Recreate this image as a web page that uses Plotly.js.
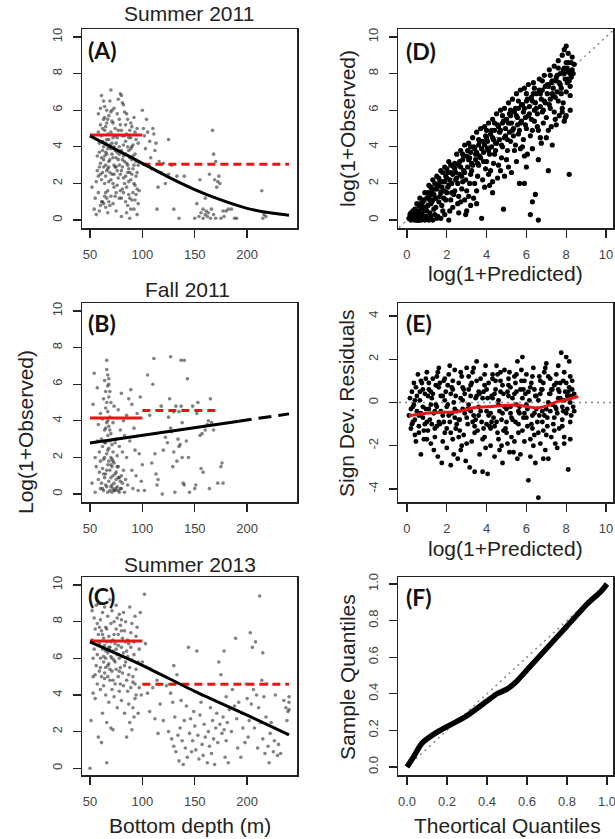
<!DOCTYPE html>
<html><head><meta charset="utf-8">
<script src="https://cdn.plot.ly/plotly-3.0.1.min.js"></script>
<style>html,body{margin:0;padding:0;background:#fff}#chart{width:615px;height:839px}</style>
</head><body><div id="chart"></div>
<script>
// ---------- DATA ----------
// Panel A: Summer 2011 [bottom depth, log(1+observed)]
const ptsA = [[52,1.8],[54,0.6],[55,1.2],[56,0.3],[57,2.7],[57,3.5],[58,5.8],[58,1.5],[59,4.2],[59,2.9],[60,0.8],[60,3.1],[60,5.2],[61,2.2],[61,4.6],[61,6.8],[62,3.8],[62,1.0],[62,2.6],[63,5.5],[63,4.0],[63,3.3],[64,6.2],[64,2.0],[64,4.9],[65,3.0],[65,5.1],[65,0.7],[65,2.4],[66,4.4],[66,6.0],[66,3.6],[67,2.8],[67,4.7],[67,1.6],[68,5.7],[68,3.2],[68,2.1],[69,4.1],[69,6.5],[70,7.1],[70,3.9],[70,1.3],[71,5.4],[71,2.5],[72,4.5],[72,0.9],[72,3.4],[73,6.1],[73,1.8],[74,2.9],[74,5.0],[75,4.2],[75,0.5],[75,1.5],[76,3.7],[76,5.8],[77,6.6],[77,2.3],[78,1.2],[78,4.0],[78,3.0],[79,6.9],[79,5.2],[80,6.8],[80,0.2],[80,2.7],[81,4.6],[81,1.7],[82,3.5],[82,6.3],[83,5.9],[83,2.0],[84,1.0],[84,4.3],[85,3.1],[85,0.4],[86,5.5],[86,2.6],[87,1.4],[87,3.8],[88,0.1],[88,4.9],[89,2.2],[89,5.3],[90,3.3],[90,1.1],[91,4.1],[91,2.8],[92,5.6],[92,0.6],[93,3.6],[93,1.9],[94,2.4],[94,4.4],[95,0.3],[95,5.0],[96,3.0],[97,1.6],
[56,2.1],[58,4.8],[59,3.7],[60,2.5],[61,3.4],[62,5.0],[63,2.9],[63,0.9],[64,3.5],[64,5.6],[65,4.2],[65,1.5],[66,2.7],[66,5.3],[67,3.9],[67,0.4],[68,4.4],[68,1.0],[69,2.6],[69,3.3],[70,4.8],[70,2.2],[71,3.6],[71,6.0],[72,2.0],[73,4.0],[73,3.0],[74,1.3],[74,3.8],[75,2.9],[76,4.5],[76,1.9],[77,3.3],[78,5.5],[79,2.5],[80,3.8],[80,4.9],[81,6.4],[81,2.9],[82,1.5],[82,4.1],[83,3.2],[84,5.2],[84,2.4],[85,4.7],[85,1.8],[86,3.0],[86,0.8],[87,4.5],[87,2.8],[88,3.4],[88,1.2],[89,0.6],[89,3.9],[90,5.1],[90,2.5],[91,1.5],[92,3.0],[93,4.8],[94,1.4],[95,2.6],[96,4.2],
[58,2.4],[59,0.5],[60,6.1],[61,1.0],[62,4.3],[63,6.5],[64,1.3],[65,3.7],[66,1.2],[67,5.5],[68,2.9],[69,0.8],[70,5.9],[71,4.2],[72,5.3],[73,2.5],[74,4.6],[75,3.4],[76,2.7],[77,4.9],[78,3.6],[79,1.6],[80,1.2],[81,3.3],[82,2.3],[83,4.6],[84,3.6],[85,5.8],[86,4.0],[87,2.1],[88,2.6],[89,4.5],[90,4.0],[91,3.5],[92,2.0],[93,1.1],[94,3.2],[95,1.7],[96,0.9],
[100,6.0],[101,5.0],[102,4.6],[103,3.9],[104,5.5],[105,4.8],[106,3.0],[107,4.3],[108,3.4],[109,2.8],[110,5.0],[111,4.7],[112,3.8],[113,4.2],[114,0.6],[115,1.8],[116,3.2],[118,2.6],[120,3.1],[122,2.0],[125,4.4],[125,2.5],[128,3.0],[130,0.6],[133,2.4],[135,0.1],[140,2.4],
[150,0.1],[152,0.9],[154,0.2],[155,2.2],[156,0.4],[158,0.1],[158,0.6],[160,1.2],[160,0.3],[161,0.5],[162,0.2],[163,0.4],[164,2.5],[165,0.1],[166,0.6],[167,4.9],[168,3.6],[168,0.3],[169,2.2],[170,3.2],[170,0.1],[171,1.8],[172,2.1],[173,2.4],[174,2.0],[175,0.1],[177,0.5],[178,0.2],[180,0.5],[182,0.6],[185,0.6],[188,0.1],[190,0.1],[214,1.6],[215,0.1],[216,0.3],[218,0.2]];
const fitAx = [50,75,100,125,150,175,200,225,240];
const fitAy = [4.6,3.85,3.1,2.35,1.67,1.1,0.64,0.37,0.27];
const meanAshallow = 4.65, meanAdeep = 3.05;

// Panel B: Fall 2011
const ptsB = [[52,0.6],[53,4.9],[54,6.6],[55,2.0],[55,0.1],[56,1.5],[57,5.8],[57,2.9],[58,0.8],[58,3.8],[59,1.2],[59,2.3],[60,0.3],[60,4.4],[60,1.8],
[61,3.0],[61,0.6],[62,2.6],[62,1.4],[62,4.1],[63,5.2],[63,0.2],[63,1.9],[64,3.5],[64,6.2],[64,0.9],[65,2.8],[65,5.6],[65,1.1],[65,4.7],[66,7.3],[66,6.8],[66,3.9],[66,0.4],[66,2.2],[67,6.5],[67,5.9],[67,4.5],[67,3.2],[67,1.6],[67,0.1],[68,6.0],[68,5.3],[68,3.7],[68,2.5],[68,0.7],[69,4.2],[69,2.9],[69,1.3],[69,0.2],[70,3.3],[70,2.0],[70,0.9],[70,5.0],[71,2.7],[71,1.5],[71,0.5],[72,3.9],[72,2.3],[72,0.3],[72,1.0],
[73,4.8],[73,1.7],[73,0.6],[74,2.8],[74,0.2],[75,3.0],[75,1.2],[75,0.8],[76,2.1],[76,0.4],[77,4.6],[77,1.5],[77,0.9],[78,2.6],[78,0.1],[79,3.5],[79,0.7],[80,5.5],[80,1.0],[80,0.3],[81,2.3],[81,0.6],[82,4.0],[82,1.3],[83,0.1],[83,3.2],[84,0.8],[85,2.0],[85,4.3],
[64,2.0],[65,0.5],[66,1.3],[67,2.4],[68,1.8],[69,3.5],[70,1.6],[71,0.1],[72,1.8],[73,0.2],[74,1.1],[75,0.3],[76,1.5],[77,0.2],[78,0.9],[79,0.3],[62,0.3],[63,1.1],[64,2.8],[65,3.6],[66,5.0],[67,4.0],[68,6.3],[69,5.6],[70,0.4],[71,1.9],
[86,0.5],[87,5.2],[88,2.9],[89,5.7],[90,1.3],[90,4.9],[91,0.3],[92,3.6],[93,2.4],[94,1.0],[95,4.4],[96,0.2],[97,2.2],[98,5.3],[99,0.7],[100,1.6],
[102,0.2],[105,6.5],[107,4.3],[109,1.7],[110,6.0],[111,7.4],[112,2.2],[113,1.1],[114,0.5],[115,0.8],[118,4.8],[119,0.0],[120,2.4],[122,3.1],[124,2.8],[125,4.2],[126,5.2],[127,7.5],[127,3.6],[128,3.4],[129,1.5],[130,2.3],[130,4.5],[131,0.1],[132,4.8],[133,1.8],[134,3.0],[135,2.6],[135,4.5],[136,2.7],[137,7.3],[137,4.8],[138,2.0],[138,3.9],[139,0.6],[140,7.3],[140,0.5],[142,2.9],[143,6.3],[144,2.0],[145,0.1],[148,4.8],[150,0.3],[151,0.5],[152,4.4],[153,5.0],[155,3.2],[156,1.4],[157,3.3],[158,1.2],[160,3.5],[162,3.8],[163,4.0],[164,0.3],[165,5.2],[166,3.9],[168,3.5],[172,0.6],[175,1.5],[176,1.7],[177,0.6]];
const fitBx = [50,192], fitBy = [2.79,3.98];
const fitBextX = [192,240], fitBextY = [3.98,4.38];
const meanBshallow = 4.16, meanBdeep = 4.56, meanBdeepEnd = 173;

// Panel C: Summer 2013
const ptsC = [[50,0.0],[51,2.6],[52,8.6],[52,7.0],[53,5.0],[53,4.1],[54,8.2],[54,6.5],[55,3.8],[55,7.6],[56,5.6],[56,8.9],[57,6.2],[57,4.6],[58,9.0],[58,7.3],[58,1.7],[59,5.3],[59,6.8],[60,8.1],[60,4.3],[60,6.0],[61,7.5],[61,5.0],[61,1.4],[62,6.5],[62,8.5],[62,3.0],[63,5.8],[63,7.1],[63,4.5],[64,6.7],[64,5.2],[64,8.8],[65,6.0],[65,7.7],[65,4.0],[65,5.5],[66,6.9],[66,2.5],[66,0.3],[67,6.3],[67,5.0],[67,8.3],[68,7.2],[68,5.7],[68,3.6],[69,6.6],[69,4.8],[69,9.2],[70,7.9],[70,6.1],[70,2.2],[71,5.3],[71,8.6],[71,4.3],[72,7.0],[72,6.4],[72,2.1],[73,5.9],[73,8.0],[73,3.9],[74,6.8],[74,4.6],[75,7.6],[75,5.4],[75,8.9],[76,6.2],[76,3.3],[77,7.3],[77,5.0],[78,8.4],[78,6.0],[78,4.2],[79,7.8],[79,5.5],[80,6.6],[80,3.7],[80,8.1],[81,5.2],[81,7.1],[82,6.3],[82,4.5],[83,7.5],[83,3.0],[84,5.8],[84,8.0],[85,4.8],[85,1.7],[86,6.1],[86,7.0],[87,3.5],[87,5.1],[88,8.8],[88,2.5],[89,4.4],[89,6.6],[90,7.9],[90,2.1],[91,5.0],[91,3.3],[92,6.9],[92,2.8],[93,8.3],[93,4.6],[94,5.4],[94,4.0],[95,7.7],[96,5.8],[97,4.4],[98,8.5],[99,4.0],[100,5.8],
[53,6.0],[55,5.1],[57,7.9],[59,7.7],[60,5.5],[62,7.3],[63,6.1],[64,4.9],[65,6.4],[66,7.6],[67,5.6],[68,6.6],[69,5.4],[70,6.9],[71,6.0],[72,4.8],[73,7.3],[74,5.8],[75,6.5],[76,8.2],[77,6.7],[78,5.3],[79,4.6],[80,7.5],[81,6.1],[82,8.5],[83,5.6],[84,6.9],[85,6.4],[86,4.2],[87,6.8],[88,5.5],[89,7.4],[90,5.9],[91,4.7],[92,6.2],[93,3.8],[94,7.2],[96,3.0],[97,6.5],
[102,9.5],[103,6.8],[105,4.1],[107,3.1],[108,5.4],[110,4.4],[112,2.7],[114,4.8],[115,1.9],[117,3.5],[120,2.6],[123,4.5],[125,2.0],[127,4.1],[128,1.6],[129,3.6],[130,5.6],[130,1.2],[131,2.8],[132,0.9],[133,5.1],[134,1.8],[135,0.4],[136,2.2],[137,3.7],[138,1.5],[139,0.2],[140,2.6],
[141,1.1],[142,3.4],[143,0.6],[144,6.6],[145,1.9],[146,2.7],[147,0.9],[148,1.5],[149,3.1],[150,2.3],[151,1.0],[152,6.4],[153,1.8],[154,0.5],[155,2.9],[156,3.6],[157,1.3],[158,0.7],[159,2.4],[160,1.7],[162,0.3],[163,2.0],[164,1.2],[165,3.3],[166,0.8],[167,2.6],[168,1.6],[169,0.2],[170,2.2],[171,3.0],[172,1.4],[173,5.8],[174,2.4],[175,5.1],[176,1.9],[177,2.8],[178,6.4],[178,2.1],[179,0.6],[180,3.9],[180,1.5],[181,2.5],[182,0.3],[183,3.2],
[185,2.0],[186,4.3],[188,3.4],[189,7.1],[190,2.7],[191,1.1],[192,3.6],[194,0.6],[195,3.0],[196,2.2],[198,1.4],[199,4.6],[200,3.8],[201,1.7],[202,2.6],[203,7.4],[204,3.5],[205,6.6],[206,4.3],[207,2.2],[208,6.9],[209,4.0],[210,1.1],[211,3.3],[212,9.4],[213,2.5],[214,4.8],[215,6.3],[215,1.6],[216,3.9],[217,0.8],[218,2.8],[219,4.6],[220,1.2],[221,0.3],[222,1.9],[223,2.5],[225,0.9],[226,1.5],[227,4.0],[229,0.7],[230,1.3],[232,0.8],[235,3.7],[237,3.3],[238,2.6],[239,3.1],[240,3.6],[240,3.9],[240,3.2]];
const fitCx = [50,100,150,200,240];
const fitCy = [6.9,5.62,4.2,2.9,1.82];
const meanCshallow = 6.95, meanCdeep = 4.58;

// Panel D: observed vs predicted
const ptsD = [[0.1,0.1],[0.2,0.0],[0.3,0.3],[0.35,0.1],[0.4,0.6],[0.45,0.2],[0.5,0.9],[0.55,0.4],[0.6,0.1],[0.65,1.2],[0.7,0.7],[0.75,0.3],[0.8,1.0],[0.85,0.5],[0.9,1.5],[0.95,0.2],[1.0,1.2],[1.05,0.8],[1.1,1.9],[1.15,0.4],[1.2,1.4],[1.25,1.0],[1.3,2.2],[1.35,0.6],[1.4,1.7],[1.45,1.2],[1.5,2.4],[1.55,0.2],[1.6,1.9],[1.65,1.3],[1.7,2.7],[1.75,0.8],[1.8,2.1],[1.85,1.6],[1.9,2.9],[1.95,1.1],[2.0,2.3],[2.05,1.8],[2.1,3.2],[2.15,0.5],[2.2,2.6],[2.25,2.0],[2.3,3.0],[2.35,1.4],[2.4,2.8],[2.45,2.2],[2.5,3.6],[2.55,0.9],[2.6,3.0],[2.65,2.5],[2.7,3.8],[2.75,1.7],[2.8,3.3],[2.85,2.7],[2.9,4.1],[2.95,0.3],[3.0,3.5],[3.05,2.9],[3.1,4.2],[3.15,2.0],[3.2,3.7],[3.25,3.1],[3.3,4.5],[3.35,1.2],[3.4,3.9],[3.45,3.3],[3.5,4.8],[3.55,2.4],[3.6,4.1],[3.65,3.5],[3.7,5.0],[3.75,0.1],[3.8,4.3],[3.85,3.7],[3.9,5.1],[3.95,2.8],[4.0,4.5],[4.05,3.9],[4.1,5.3],[4.15,1.9],[4.2,4.7],[4.25,4.0],[4.3,5.5],[4.35,3.1],[4.4,4.9],[4.45,4.2],[4.5,5.8],[4.55,2.3],[4.6,5.1],[4.65,4.4],[4.7,6.0],[4.75,3.4],[4.8,5.3],[4.85,0.6],[4.9,6.1],[4.95,4.6],[5.0,5.5],[5.05,3.8],[5.1,6.4],[5.15,4.8],[5.2,5.7],[5.25,2.6],[5.3,6.6],[5.35,5.0],[5.4,5.9],[5.45,4.1],[5.5,6.9],[5.55,5.2],[5.6,6.1],[5.65,2.0],[5.7,7.1],[5.75,5.4],[5.8,6.3],[5.85,4.4],[5.9,7.2],[5.95,5.6],[6.0,6.5],[6.05,3.6],[6.1,7.4],[6.15,5.8],[6.2,0.3],[6.25,6.7],[6.3,4.9],[6.35,7.5],[6.4,6.0],[6.45,1.4],[6.5,6.9],[6.55,5.1],[6.6,0.0],[6.65,7.7],[6.7,6.2],[6.75,4.2],[6.8,7.1],[6.85,5.3],[6.9,7.9],[6.95,6.4],[7.0,4.5],[7.05,7.4],[7.1,2.7],[7.15,8.2],[7.2,6.6],[7.25,5.1],[7.3,7.6],[7.35,6.8],[7.4,8.4],[7.45,5.5],[7.5,7.8],[7.55,7.0],[7.6,8.7],[7.65,5.7],[7.7,8.0],[7.75,7.2],[7.8,9.0],[7.85,6.4],[7.9,8.3],[7.95,5.6],[8.0,9.5],[8.05,7.5],[8.1,8.6],[8.15,2.5],[8.2,8.0],[8.25,7.8],[8.3,8.9],
[0.3,0.1],[0.5,0.3],[0.7,0.9],[0.9,0.6],[1.1,1.3],[1.3,1.1],[1.5,1.7],[1.7,1.5],[1.9,2.1],[2.1,1.9],[2.3,2.5],[2.5,2.3],[2.7,2.9],[2.9,2.6],[3.1,3.3],[3.3,3.0],[3.5,3.7],[3.7,3.4],[3.9,4.1],[4.1,3.8],[4.3,4.5],[4.5,4.2],[4.7,4.9],[4.9,4.5],[5.1,5.3],[5.3,4.9],[5.5,5.7],[5.7,5.3],[5.9,6.1],[6.1,5.7],[6.3,6.5],[6.5,6.1],[6.7,6.9],[6.9,6.5],[7.1,7.3],[7.3,6.9],[7.5,7.6],[7.7,7.4],[7.9,8.0],[8.1,7.7],[0.8,0.2],[1.2,0.9],[1.6,1.0],[2.0,1.5],[2.4,1.6],[2.8,2.1],[3.2,2.5],[3.6,3.0],[4.0,3.2],[4.4,3.6],[4.8,4.0],[5.2,4.3],[5.6,4.7],[6.0,5.0],[6.4,5.4],[6.8,5.9],[7.2,6.1],[7.6,6.5],[8.0,7.0],[8.2,6.8],[1.0,0.1],[1.4,0.3],[1.8,0.5],[2.2,1.1],[2.6,1.3],[3.0,1.6],[3.4,2.0],[3.8,2.2],[4.2,2.7],[4.6,3.0],[5.0,3.3],[5.4,3.8],[5.8,4.0],[6.2,4.6],[6.6,4.9],[7.0,5.6],[7.4,5.9],[7.8,6.1],[8.2,7.3],[8.1,8.1],[2.0,2.8],[2.4,3.1],[2.8,3.6],[3.2,4.0],[3.6,4.4],[4.0,4.9],[4.4,5.3],[4.8,5.7],[5.2,6.0],[5.6,6.5],[6.0,6.9],[6.4,7.2],[6.8,7.6],[7.2,7.9],[7.6,8.3],[8.0,8.6],[7.9,9.3],[8.1,9.1],[8.4,8.5],[8.3,8.2],[0.2,0.4],[0.4,0.0],[0.6,0.5],[0.6,0.8],[1.0,0.5],[1.2,1.8],[1.4,2.0],[1.6,2.3],[1.8,2.6],[2.2,3.0],[0.9,0.0],[1.3,0.0],[1.7,0.1],[2.6,0.4],[3.2,0.8],[2.9,1.1],[3.5,1.6],[4.9,2.4],[5.9,2.0],[6.3,1.0],[4.3,2.1],[6.0,2.9],
[0.15,0.3],[0.25,0.15],[0.45,0.5],[0.55,0.0],[0.65,0.35],[0.75,0.8],[0.85,1.1],[0.95,0.7],[1.05,1.5],[1.15,1.1],[1.25,1.6],[1.35,1.4],[1.45,0.7],[1.55,1.9],[1.65,2.1],[1.75,1.8],[1.85,1.2],[1.95,2.4],[2.05,2.6],[2.15,2.2],[2.25,1.5],[2.35,2.9],[2.45,2.6],[2.55,2.0],[2.65,3.2],[2.75,2.4],[2.85,3.5],[2.95,2.2],[3.05,3.8],[3.15,3.4],[3.25,2.7],[3.35,4.0],[3.45,3.6],[3.55,3.1],[3.65,4.3],[3.75,3.9],[3.85,3.2],[3.95,4.6],[4.05,4.3],[4.15,3.6],[4.25,4.9],[4.35,4.4],[4.45,3.8],[4.55,5.2],[4.65,4.8],[4.75,4.1],[4.85,5.4],[4.95,5.0],[5.05,4.4],[5.15,5.8],[5.25,5.3],[5.35,4.6],[5.45,6.1],[5.55,5.6],[5.65,4.9],[5.75,6.3],[5.85,5.9],[5.95,5.2],[6.05,6.6],[6.15,6.2],[6.25,5.5],[6.35,6.9],[6.45,6.4],[6.55,5.8],[6.65,7.1],[6.75,6.6],[6.85,6.0],[6.95,7.3],[7.05,6.9],[7.15,6.3],[7.25,7.5],[7.35,7.2],[7.45,6.7],[7.55,7.9],[7.65,7.5],[7.75,6.9],[7.85,8.2],[7.95,7.7],[8.05,8.3],[8.15,7.6],[8.25,8.6],[8.35,8.0],
[1.2,0.2],[1.9,0.3],[2.3,0.7],[2.7,1.0],[3.1,1.3],[3.5,0.9],[3.9,1.8],[4.3,1.5],[4.7,2.7],[5.1,2.9],[5.5,3.2],[5.9,3.5],[6.3,3.9],[6.7,4.5],[7.1,4.9],[7.5,5.2],[7.9,5.4],[8.2,6.0],[4.1,2.5],[5.7,3.9],[6.6,3.3],[7.3,4.1],[7.8,5.9],[8.0,5.7],[3.0,0.5],[2.1,0.0],[1.5,0.1],[0.5,0.0],[0.7,0.0],[1.1,0.0],[0.3,0.5],[0.6,0.0]];

// Panel E: signed deviance residuals vs predicted
const ptsE = [[0.1,-0.6],[0.15,0.2],[0.2,-1.2],[0.25,0.5],[0.3,-0.9],[0.35,-0.1],[0.4,-1.5],[0.45,0.7],[0.5,-0.4],[0.55,1.3],[0.6,-1.1],[0.65,0.1],[0.7,-2.4],[0.75,0.9],[0.8,-0.7],[0.85,-1.7],[0.9,0.4],[0.95,-0.3],[1.0,1.4],[1.05,-1.3],[1.1,0.6],[1.15,-0.8],[1.2,-1.9],[1.25,0.2],[1.3,1.1],[1.35,-0.5],[1.4,-1.6],[1.45,0.8],[1.5,-0.2],[1.55,-2.5],[1.6,1.6],[1.65,-1.0],[1.7,0.3],[1.75,-2.8],[1.8,-0.6],[1.85,1.0],[1.9,-1.4],[1.95,0.5],[2.0,-2.1],[2.05,-0.1],[2.1,1.3],[2.15,-0.9],[2.2,-2.9],[2.25,0.7],[2.3,-1.7],[2.35,0.0],[2.4,1.5],[2.45,-1.2],[2.5,-0.4],[2.55,-2.6],[2.6,0.9],[2.65,-0.8],[2.7,-2.2],[2.75,1.2],[2.8,-0.3],[2.85,-1.5],[2.9,0.4],[2.95,-2.7],[3.0,1.6],[3.05,-1.0],[3.1,-0.1],[3.15,-3.0],[3.2,0.8],[3.25,-1.8],[3.3,1.4],[3.35,-0.6],[3.4,-3.2],[3.45,0.2],[3.5,1.9],[3.55,-1.3],[3.6,-0.2],[3.65,-2.4],[3.7,1.1],[3.75,-0.9],[3.8,-3.2],[3.85,0.5],[3.9,-1.6],[3.95,1.7],[4.0,-0.4],[4.05,-3.3],[4.1,0.9],[4.15,-1.1],[4.2,-2.0],[4.25,0.3],[4.3,1.3],[4.35,-0.7],[4.4,-2.5],[4.45,0.6],[4.5,1.7],[4.55,-1.4],[4.6,-0.1],[4.65,-2.2],[4.7,1.0],[4.75,-0.8],[4.8,-2.8],[4.85,0.4],[4.9,1.5],[4.95,-1.2],[5.0,-0.3],[5.05,-1.9],[5.1,0.8],[5.15,1.4],[5.2,-0.5],[5.25,-1.6],[5.3,0.2],[5.35,-2.3],[5.4,1.2],[5.45,-0.9],[5.5,0.5],[5.55,1.9],[5.6,-1.4],[5.65,-0.2],[5.7,-2.4],[5.75,1.0],[5.8,2.1],[5.85,-0.7],[5.9,-1.8],[5.95,0.4],[6.0,1.3],[6.05,-1.1],[6.1,-3.6],[6.15,0.1],[6.2,-2.5],[6.25,0.9],[6.3,-0.6],[6.35,1.6],[6.4,-1.5],[6.45,-2.8],[6.5,0.3],[6.55,-0.9],[6.6,-4.4],[6.65,1.2],[6.7,-1.9],[6.75,0.6],[6.8,-0.4],[6.85,-1.3],[6.9,1.4],[6.95,-2.2],[7.0,1.8],[7.05,-0.7],[7.1,-2.6],[7.15,0.4],[7.2,1.1],[7.25,-1.6],[7.3,-0.1],[7.35,-1.0],[7.4,0.8],[7.45,-1.9],[7.5,1.3],[7.55,-0.5],[7.6,1.7],[7.65,-1.2],[7.7,0.2],[7.75,2.3],[7.8,-0.8],[7.85,1.0],[7.9,-1.6],[7.95,0.5],[8.0,2.1],[8.05,-0.3],[8.1,-3.1],[8.15,0.7],[8.2,-0.9],[8.25,0.3],[8.3,1.0],[8.35,-0.2],[8.4,0.4],
[0.3,-0.2],[0.5,0.3],[0.7,-0.5],[0.9,-1.0],[1.1,-0.3],[1.3,0.4],[1.5,-1.1],[1.7,-0.4],[1.9,0.1],[2.1,-0.6],[2.3,0.6],[2.5,-1.0],[2.7,0.2],[2.9,-0.5],[3.1,0.6],[3.3,-0.9],[3.5,0.3],[3.7,-0.4],[3.9,0.8],[4.1,-0.6],[4.3,0.2],[4.5,-0.9],[4.7,0.5],[4.9,-0.2],[5.1,0.3],[5.3,-0.8],[5.5,-0.1],[5.7,0.6],[5.9,-0.5],[6.1,0.5],[6.3,-1.2],[6.5,-0.3],[6.7,0.4],[6.9,-0.6],[7.1,0.0],[7.3,0.6],[7.5,-0.3],[7.7,0.9],[7.9,0.1],[8.1,0.5],[0.4,-0.8],[0.8,0.6],[1.2,-0.1],[1.6,0.7],[2.0,-0.2],[2.4,-0.7],[2.8,0.7],[3.2,-0.4],[3.6,0.5],[4.0,-1.0],[4.4,0.4],[4.8,-0.5],[5.2,0.7],[5.6,-0.4],[6.0,-0.1],[6.4,0.6],[6.8,-0.9],[7.2,-0.4],[7.6,0.2],[8.0,-0.5],[8.3,0.6],[0.6,-1.4],[1.0,-1.7],[1.4,-1.2],[1.8,-1.8],[2.2,-1.4],[2.6,-1.6],[3.0,-1.9],[3.4,-1.4],[3.8,-1.7],[4.2,-1.2],[4.6,-1.7],[5.0,-1.4],[5.4,-1.8],[5.8,-1.3],[6.2,-1.7],[6.6,-1.4],[7.0,-1.5],[7.4,-1.3],[7.8,-1.1],[8.2,-1.7],[0.7,1.0],[1.1,0.9],[1.5,1.2],[1.9,1.1],[2.3,1.0],[2.7,1.4],[3.1,1.2],[3.5,1.0],[3.9,1.3],[4.3,1.1],[4.7,1.4],[5.1,1.1],[5.5,1.3],[5.9,1.0],[6.3,1.2],[6.7,1.0],[7.1,1.2],[7.5,0.9],[7.9,1.4],[8.2,1.2],
[0.2,-0.3],[0.4,0.1],[0.6,-0.6],[0.8,-0.2],[1.0,-0.9],[1.2,0.5],[1.4,-0.4],[1.6,-0.9],[1.8,0.3],[2.0,-1.2],[2.2,0.4],[2.4,-0.3],[2.6,-0.8],[2.8,0.1],[3.0,-0.7],[3.2,0.3],[3.4,-1.1],[3.6,-0.6],[3.8,0.2],[4.0,0.6],[4.2,-0.5],[4.4,-1.1],[4.6,0.1],[4.8,0.8],[5.0,-0.9],[5.2,-0.2],[5.4,0.4],[5.6,-1.0],[5.8,0.2],[6.0,-0.7],[6.2,0.7],[6.4,-0.5],[6.6,0.1],[6.8,0.6],[7.0,-0.3],[7.2,0.4],[7.4,-0.7],[7.6,0.6],[7.8,-0.2],[8.0,0.9],[8.2,0.0],[8.4,-0.4],
[0.25,-1.0],[0.45,-1.8],[0.65,0.5],[0.85,-1.3],[1.05,0.3],[1.25,-1.0],[1.45,-0.1],[1.65,0.9],[1.85,-0.9],[2.05,0.8],[2.25,-0.5],[2.45,0.3],[2.65,-1.3],[2.85,0.6],[3.05,-0.3],[3.25,0.9],[3.45,-0.8],[3.65,0.4],[3.85,-1.2],[4.05,0.2],[4.25,-0.9],[4.45,1.0],[4.65,-0.4],[4.85,-1.3],[5.05,0.5],[5.25,-0.7],[5.45,0.9],[5.65,-0.5],[5.85,0.6],[6.05,-0.3],[6.25,-1.0],[6.45,0.3],[6.65,-0.6],[6.85,0.9],[7.05,-1.1],[7.25,0.6],[7.45,-0.2],[7.65,0.5],[7.85,-0.4],[8.05,0.3],[8.25,-0.6],
[0.35,0.9],[0.95,1.1],[1.55,1.4],[2.15,1.7],[2.75,-2.0],[3.35,1.6],[3.95,-2.1],[4.55,1.3],[5.15,-2.3],[5.75,1.5],[6.35,-2.0],[6.95,1.6],[7.55,-2.1],[8.15,1.9],[1.35,-2.2],[2.35,-2.4],[4.75,-2.0],[6.85,-2.6],[7.9,-1.9],[5.55,-2.6]];
const loessEx = [0.1,1,2,2.5,3,3.5,4,5,5.5,6,6.5,7,7.5,8,8.6];
const loessEy = [-0.61,-0.5,-0.45,-0.43,-0.32,-0.22,-0.2,-0.13,-0.12,-0.18,-0.25,-0.17,0.03,0.13,0.28];

// Panel F: QQ plot
const qqFx = [0,0.03,0.075,0.15,0.2,0.3,0.4,0.45,0.5,0.55,0.6,0.7,0.8,0.9,0.97,1.0];
const qqFy = [0,0.05,0.13,0.19,0.22,0.28,0.36,0.40,0.425,0.47,0.53,0.65,0.77,0.89,0.96,1.0];

const depthTicks = [50,100,150,200];
const obsTicks = [0,2,4,6,8,10];
const resTicks = [-4,-2,0,2,4];
const resTickText = ['-4','-2','0','2','4'];
const qTicks = [0,0.2,0.4,0.6,0.8,1.0];

// ---------- HELPERS ----------
const W = 615, H = 839;
const px = v => v / W, py = v => 1 - v / H;
const RED = 'rgb(235,20,20)';
const GRAYPT = 'rgba(40,40,40,0.58)';
const tickFont = {family: 'Liberation Sans, Arial, sans-serif', size: 13, color: '#444'};
const titleFont = {family: 'Liberation Sans, Arial, sans-serif', size: 21, color: '#222'};
const labFont = {family: 'Lato, Open Sans, sans-serif', size: 23, color: '#111', weight: 700};

function xs(p){return p.map(d=>d[0]);} function ys(p){return p.map(d=>d[1]);}
function pts(p, xa, ya, color, size){return {type:'scatter', mode:'markers', x:xs(p), y:ys(p), xaxis:xa, yaxis:ya, marker:{color:color, size:size}, hoverinfo:'skip'};}
function ln(x, y, xa, ya, color, width, dash){return {type:'scatter', mode:'lines', x:x, y:y, xaxis:xa, yaxis:ya, line:{color:color, width:width, dash:dash||'solid', shape:'spline', smoothing:0.6}, hoverinfo:'skip'};}

const traces = [
  pts(ptsA,'x','y',GRAYPT,3.6),
  ln([50,100],[meanAshallow,meanAshallow],'x','y',RED,3),
  ln([100,240],[meanAdeep,meanAdeep],'x','y',RED,3,'8px,5px'),
  ln(fitAx,fitAy,'x','y','#000',3),
  ln([-0.4,10.4],[-0.4,10.4],'x2','y2','#888',1.5,'2px,4px'),
  pts(ptsD,'x2','y2','#000',5.2),
  pts(ptsB,'x3','y3',GRAYPT,3.6),
  ln([50,100],[meanBshallow,meanBshallow],'x3','y3',RED,3),
  ln([100,meanBdeepEnd],[meanBdeep,meanBdeep],'x3','y3',RED,3,'8px,5px'),
  ln(fitBx,fitBy,'x3','y3','#000',3),
  ln(fitBextX,fitBextY,'x3','y3','#000',3,'13px,7px'),
  ln([-0.4,10.4],[0,0],'x4','y4','#888',1.5,'2px,4px'),
  pts(ptsE,'x4','y4','#000',4.9),
  ln(loessEx,loessEy,'x4','y4',RED,3),
  pts(ptsC,'x5','y5',GRAYPT,3.6),
  ln([50,100],[meanCshallow,meanCshallow],'x5','y5',RED,3),
  ln([100,240],[meanCdeep,meanCdeep],'x5','y5',RED,3,'8px,5px'),
  ln(fitCx,fitCy,'x5','y5','#000',3),
  ln([0,1],[0,1],'x6','y6','#888',1.5,'2px,4px'),
  ln(qqFx,qqFy,'x6','y6','#000',5.5)
];

const LX = [px(82), px(297)], RX = [px(398), px(613)];
const R1 = [py(228), py(29)], R2 = [py(502), py(303)], R3 = [py(775), py(577)];

function ax(domain, anchor, range, tickvals, isY, fmt, ticktext){
  const a = {domain:domain, anchor:anchor, range:range, tickmode:'array', tickvals:tickvals,
    showgrid:false, zeroline:false, showline:true, mirror:true, linecolor:'#222', linewidth:1.5,
    ticks:'outside', ticklen:8, tickwidth:1.3, tickcolor:'#222', tickfont:tickFont, fixedrange:true,
    ticklabeloverflow:'allow'};
  if (ticktext) a.ticktext = ticktext;
  if (fmt) a.tickformat = fmt;
  if (isY){ a.tickangle = -90; a.ticklabelstandoff = 5; } else { a.ticklabelstandoff = 6; }
  return a;
}
const depthR = [42.4,247.6], obsR = [-0.43,10.43], predR = [-0.45,10.35];

const layout = {
  width:W, height:H, margin:{l:0,r:0,t:0,b:0}, paper_bgcolor:'#fff', plot_bgcolor:'#fff', showlegend:false,
  xaxis: ax(LX,'y',depthR,depthTicks,false),  yaxis: ax(R1,'x',obsR,obsTicks,true),
  xaxis2: ax(RX,'y2',predR,obsTicks,false),  yaxis2: ax(R1,'x2',obsR,obsTicks,true),
  xaxis3: ax(LX,'y3',depthR,depthTicks,false), yaxis3: ax(R2,'x3',obsR,obsTicks,true),
  xaxis4: ax(RX,'y4',predR,obsTicks,false),  yaxis4: ax(R2,'x4',[-4.6,4.6],resTicks,true,null,resTickText),
  xaxis5: ax(LX,'y5',depthR,depthTicks,false), yaxis5: ax(R3,'x5',[-0.37,10.44],obsTicks,true),
  xaxis6: ax(RX,'y6',[-0.045,1.03],qTicks,false,'.1f'), yaxis6: ax(R3,'x6',[-0.044,1.038],qTicks,true,'.1f'),
  annotations: []
};
function ann(text, x, y, font, opts){
  layout.annotations.push(Object.assign({text:text, x:px(x), y:py(y), xref:'paper', yref:'paper', showarrow:false, font:font, xanchor:'center', yanchor:'middle'}, opts||{}));
}
ann('Summer 2011',189,14,titleFont);
ann('Fall 2011',188,290,titleFont);
ann('Summer 2013',190,564,titleFont);
ann('Bottom depth (m)',189.5,825,titleFont);
ann('log(1+Predicted)',505.5,273,titleFont);
ann('log(1+Predicted)',505.5,548,titleFont);
ann('Theortical Quantiles',507,825,titleFont);
ann('log(1+Observed)',347,129,titleFont,{textangle:-90});
ann('Sign Dev. Residuals',347,403,titleFont,{textangle:-90});
ann('Sample Quantiles',347,677,titleFont,{textangle:-90});
ann('Log(1+Observed)',25,432,titleFont,{textangle:-90});
ann('<b>(A)</b>',86,50,labFont,{xanchor:'left'});
ann('<b>(D)</b>',404,51,labFont,{xanchor:'left'});
ann('<b>(B)</b>',86,323,labFont,{xanchor:'left'});
ann('<b>(E)</b>',404,323,labFont,{xanchor:'left'});
ann('<b>(C)</b>',86,596,labFont,{xanchor:'left'});
ann('<b>(F)</b>',404,597,labFont,{xanchor:'left'});

Plotly.newPlot('chart', traces, layout, {staticPlot:true, displayModeBar:false});
</script></body></html>
